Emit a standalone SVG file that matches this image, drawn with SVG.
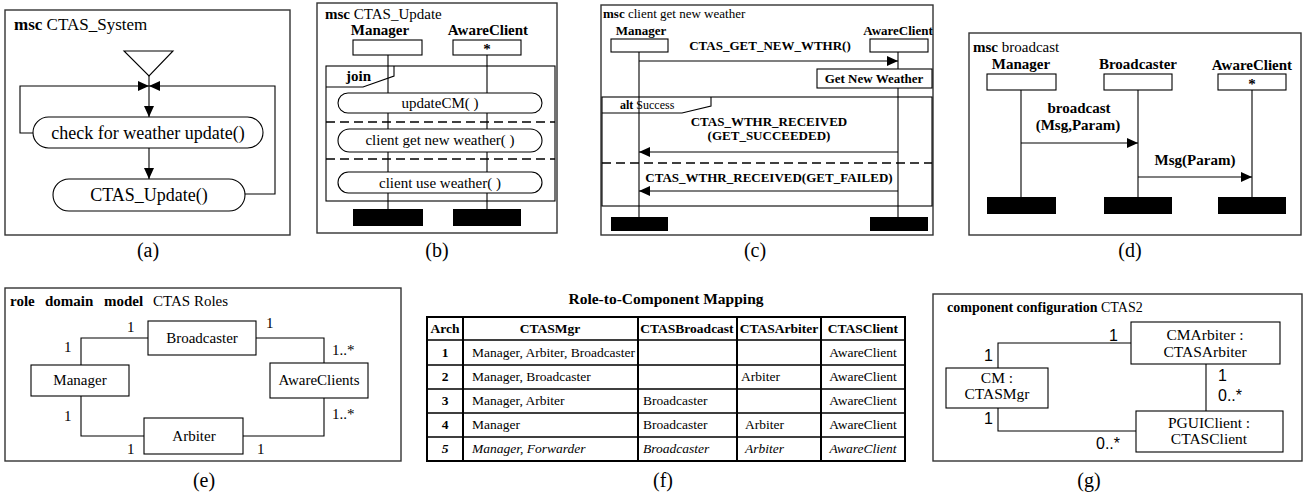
<svg xmlns="http://www.w3.org/2000/svg" width="1314" height="499" viewBox="0 0 1314 499" font-family="'Liberation Serif', 'DejaVu Serif', serif">
<defs>
<style>
text{font-family:'Liberation Serif','DejaVu Serif',serif;fill:#000}
.fr{fill:none;stroke:#333;stroke-width:1.4}
.bx{fill:#fff;stroke:#000;stroke-width:1.1}
.ln{fill:none;stroke:#000;stroke-width:1.1}
.ll{fill:none;stroke:#000;stroke-width:1.1}
.ds{fill:none;stroke:#000;stroke-width:1.3;stroke-dasharray:9,5}
.bar{fill:#000}
.b{font-weight:bold}
.cap{font-size:20px;text-anchor:middle}
.c{text-anchor:middle}
text.sans{font-family:'Liberation Sans',Arial,sans-serif;font-size:16px}
.tb{fill:none;stroke:#000;stroke-width:1.4}
.tbo{fill:none;stroke:#000;stroke-width:2}
</style>
<marker id="ah" viewBox="0 0 11 10" refX="11" refY="5" markerWidth="11" markerHeight="10" markerUnits="userSpaceOnUse" orient="auto"><path d="M0,0 L11,5 L0,10 z" fill="#000"/></marker>
</defs>

<!-- Panel (a) -->
<g id="panel-a">
<rect class="fr" x="5" y="10" width="285" height="225"/>
<text x="14" y="30" font-size="17"><tspan class="b">msc</tspan> CTAS_System</text>
<polygon points="124,51 173,51 149,76" fill="#fff" stroke="#000" stroke-width="1.1"/>
<text class="cap" x="148" y="257">(a)</text>
</g>
<g id="a-connectors">
<path class="ln" d="M149,76 V117" marker-end="url(#ah)"/>
<path class="ln" d="M33,133 H20 V86 H149" marker-end="url(#ah)"/>
<path class="ln" d="M245,194 H275 V86 H149" marker-end="url(#ah)"/>
<path class="ln" d="M149,148 V179" marker-end="url(#ah)"/>
</g>
<g id="a-check">
<rect class="bx" x="33" y="117" width="230" height="31" rx="15.5"/>
<text class="c" x="148" y="139" font-size="18">check for weather update()</text>
</g>
<g id="a-update">
<rect class="bx" x="53" y="179" width="192" height="32" rx="16"/>
<text class="c" x="149" y="201" font-size="18">CTAS_Update()</text>
</g>

<!-- Panel (b) -->
<g id="panel-b">
<rect class="fr" x="317" y="3" width="240" height="230"/>
<text x="325" y="19" font-size="15"><tspan class="b">msc</tspan> CTAS_Update</text>
<text class="cap" x="437" y="257">(b)</text>
</g>
<g id="b-lifelines">
<path class="ll" d="M388,55 V209 M487,55 V209"/>
</g>
<g id="b-manager">
<text class="c b" x="380" y="35" font-size="15">Manager</text>
<rect class="bx" x="353" y="40" width="69" height="15"/>
<rect class="bar" x="353" y="209" width="70" height="17"/>
</g>
<g id="b-awareclient">
<text class="c b" x="488" y="35" font-size="15">AwareClient</text>
<rect class="bx" x="453" y="40" width="68" height="15"/>
<text class="c b" x="487" y="54" font-size="15">*</text>
<rect class="bar" x="453" y="209" width="68" height="17"/>
</g>
<g id="b-join">
<rect class="ln" x="326" y="66" width="229" height="135"/>
<path class="ln" d="M326,87 H363 L394,76 V66"/>
<text class="b" x="346" y="81" font-size="15">join</text>
<path class="ds" d="M326,122 H555 M326,159 H555"/>
<rect class="bx" x="338" y="93" width="204" height="20" rx="10"/>
<text class="c" x="440" y="108" font-size="15">updateCM( )</text>
<rect class="bx" x="338" y="129" width="204" height="23" rx="11.5"/>
<text class="c" x="440" y="145" font-size="15">client get new weather( )</text>
<rect class="bx" x="338" y="172" width="204" height="21" rx="10.5"/>
<text class="c" x="440" y="188" font-size="15">client use weather( )</text>
</g>

<!-- Panel (c) -->
<g id="panel-c">
<rect class="fr" x="601" y="5" width="332" height="230"/>
<text x="603" y="18" font-size="13"><tspan class="b">msc</tspan> client get new weather</text>
<text class="cap" x="755" y="257">(c)</text>
</g>
<g id="c-manager">
<text class="c b" x="641" y="35" font-size="13">Manager</text>
<path class="ll" d="M639,52 V217"/>
<rect class="bx" x="611" y="39" width="57" height="13"/>
<rect class="bar" x="611" y="217" width="57" height="14"/>
</g>
<g id="c-awareclient">
<text class="c b" x="898" y="35" font-size="13">AwareClient</text>
<path class="ll" d="M898,52 V217"/>
<rect class="bx" x="870" y="39" width="58" height="13"/>
<rect class="bar" x="870" y="217" width="58" height="14"/>
</g>
<g id="c-getnew">
<rect class="bx" x="817" y="69" width="115" height="19"/>
<text class="c b" x="874" y="83" font-size="13">Get New Weather</text>
</g>
<g id="c-alt">
<rect class="ln" x="602" y="97" width="330" height="109"/>
<path class="ln" d="M602,113 H682 L711,106 V97"/>
<text x="620" y="109" font-size="12"><tspan class="b">alt</tspan>  Success</text>
<path class="ds" d="M602,163 H932"/>
</g>
<g id="c-connectors">
<text class="c b" x="770" y="50" font-size="13">CTAS_GET_NEW_WTHR()</text>
<path class="ln" d="M639,61 H898" marker-end="url(#ah)"/>
<text class="c b" x="769" y="126" font-size="13">CTAS_WTHR_RECEIVED</text>
<text class="c b" x="769" y="140" font-size="13">(GET_SUCCEEDED)</text>
<path class="ln" d="M898,152 H639" marker-end="url(#ah)"/>
<text class="c b" x="769" y="182" font-size="13">CTAS_WTHR_RECEIVED(GET_FAILED)</text>
<path class="ln" d="M898,191 H639" marker-end="url(#ah)"/>
</g>

<!-- Panel (d) -->
<g id="panel-d">
<rect class="fr" x="969" y="33" width="332" height="202"/>
<text x="973" y="52" font-size="15"><tspan class="b">msc</tspan> broadcast</text>
<text class="cap" x="1130" y="257">(d)</text>
</g>
<g id="d-manager">
<text class="c b" x="1021" y="69" font-size="15">Manager</text>
<path class="ll" d="M1021,90 V197"/>
<rect class="bx" x="987" y="74" width="69" height="16"/>
<rect class="bar" x="987" y="197" width="69" height="17"/>
</g>
<g id="d-broadcaster">
<text class="c b" x="1138" y="69" font-size="15">Broadcaster</text>
<path class="ll" d="M1138,90 V197"/>
<rect class="bx" x="1104" y="74" width="68" height="16"/>
<rect class="bar" x="1104" y="197" width="68" height="17"/>
</g>
<g id="d-awareclient">
<text class="c b" x="1252" y="70" font-size="15">AwareClient</text>
<path class="ll" d="M1252,90 V197"/>
<rect class="bx" x="1218" y="74" width="68" height="16"/>
<text class="c b" x="1252" y="89" font-size="15">*</text>
<rect class="bar" x="1218" y="197" width="68" height="17"/>
</g>
<g id="d-connectors">
<text class="c b" x="1079" y="113" font-size="15">broadcast</text>
<text class="c b" x="1078" y="130" font-size="15">(Msg,Param)</text>
<path class="ln" d="M1021,143 H1138" marker-end="url(#ah)"/>
<text class="c b" x="1195" y="165" font-size="15">Msg(Param)</text>
<path class="ln" d="M1138,177 H1252" marker-end="url(#ah)"/>
</g>

<!-- Panel (e) -->
<g id="panel-e">
<rect class="fr" x="5" y="288" width="396" height="173"/>
<text y="306" font-size="15"><tspan class="b" x="10">role</tspan><tspan class="b" x="45">domain</tspan><tspan class="b" x="104">model</tspan><tspan x="153">CTAS Roles</tspan></text>
<text class="cap" x="204" y="487">(e)</text>
</g>
<g id="e-connectors">
<path class="ln" d="M81,365 V338 H148"/>
<path class="ln" d="M256,338 H324 V363"/>
<path class="ln" d="M81,396 V436 H144"/>
<path class="ln" d="M243,436 H324 V398"/>
<g font-size="15">
<text x="64" y="352">1</text>
<text x="127" y="332">1</text>
<text x="266" y="328">1</text>
<text x="332" y="355">1..*</text>
<text x="64" y="421">1</text>
<text x="127" y="454">1</text>
<text x="257" y="454">1</text>
<text x="332" y="419">1..*</text>
</g>
</g>
<g id="e-manager">
<rect class="bx" x="31" y="365" width="98" height="31"/>
<text class="c" x="80" y="385" font-size="15">Manager</text>
</g>
<g id="e-broadcaster">
<rect class="bx" x="148" y="321" width="108" height="34"/>
<text class="c" x="202" y="343" font-size="15">Broadcaster</text>
</g>
<g id="e-arbiter">
<rect class="bx" x="144" y="418" width="99" height="36"/>
<text class="c" x="194" y="441" font-size="15">Arbiter</text>
</g>
<g id="e-awareclients">
<rect class="bx" x="270" y="363" width="98" height="35"/>
<text class="c" x="319" y="385" font-size="15">AwareClients</text>
</g>

<!-- Panel (f) -->
<g id="panel-f">
<text class="c b" x="666" y="304" font-size="15.5">Role-to-Component Mapping</text>
<rect class="tbo" x="427" y="317" width="478" height="144"/>
<path class="tb" d="M427,340 H905 M427,365 H905 M427,389 H905 M427,413 H905 M427,437 H905"/>
<path class="tbo" d="M463,317 V461 M638,317 V461 M737,317 V461 M821,317 V461"/>
<g class="b c" font-size="13.5">
<text x="445" y="333">Arch</text>
<text x="550" y="333">CTASMgr</text>
<text x="687" y="333">CTASBroadcast</text>
<text x="779" y="333">CTASArbiter</text>
<text x="863" y="333">CTASClient</text>
<text x="445" y="357">1</text>
<text x="445" y="381">2</text>
<text x="445" y="405">3</text>
<text x="445" y="429">4</text>
<text x="445" y="453" font-style="italic">5</text>
</g>
<g font-size="13.5">
<text x="472" y="357">Manager, Arbiter, Broadcaster</text>
<text class="c" x="863" y="357">AwareClient</text>
<text x="472" y="381">Manager, Broadcaster</text>
<text x="741" y="381">Arbiter</text>
<text class="c" x="863" y="381">AwareClient</text>
<text x="472" y="405">Manager, Arbiter</text>
<text x="643" y="405">Broadcaster</text>
<text class="c" x="863" y="405">AwareClient</text>
<text x="472" y="429">Manager</text>
<text x="643" y="429">Broadcaster</text>
<text x="745" y="429">Arbiter</text>
<text class="c" x="863" y="429">AwareClient</text>
<g font-style="italic">
<text x="472" y="453">Manager, Forwarder</text>
<text x="643" y="453">Broadcaster</text>
<text x="745" y="453">Arbiter</text>
<text class="c" x="863" y="453">AwareClient</text>
</g>
</g>
<text class="cap" x="663" y="487">(f)</text>
</g>

<!-- Panel (g) -->
<g id="panel-g">
<rect class="fr" x="933" y="294" width="369" height="167"/>
<text x="947" y="312" font-size="14"><tspan class="b">component configuration</tspan> CTAS2</text>
<text class="cap" x="1089" y="487">(g)</text>
</g>
<g id="g-connectors">
<path class="ln" d="M998,368 V343 H1131"/>
<path class="ln" d="M1206,364 V411"/>
<path class="ln" d="M998,408 V431 H1136"/>
<text class="sans" x="984" y="361">1</text>
<text class="sans" x="1109" y="341">1</text>
<text class="sans" x="1218" y="381">1</text>
<text class="sans" x="1218" y="401">0..*</text>
<text class="sans" x="984" y="424">1</text>
<text class="sans" x="1096" y="449">0..*</text>
</g>
<g id="g-cmarbiter">
<rect class="bx" x="1131" y="322" width="149" height="42"/>
<text class="c" x="1205" y="340" font-size="15.5">CMArbiter :</text>
<text class="c" x="1205" y="357" font-size="15.5">CTASArbiter</text>
</g>
<g id="g-cm">
<rect class="bx" x="946" y="368" width="102" height="40"/>
<text class="c" x="997" y="383" font-size="15.5">CM :</text>
<text class="c" x="997" y="399" font-size="15.5">CTASMgr</text>
</g>
<g id="g-pguiclient">
<rect class="bx" x="1136" y="411" width="147" height="41"/>
<text class="c" x="1209" y="428" font-size="15.5">PGUIClient :</text>
<text class="c" x="1209" y="444" font-size="15.5">CTASClient</text>
</g>
</svg>
